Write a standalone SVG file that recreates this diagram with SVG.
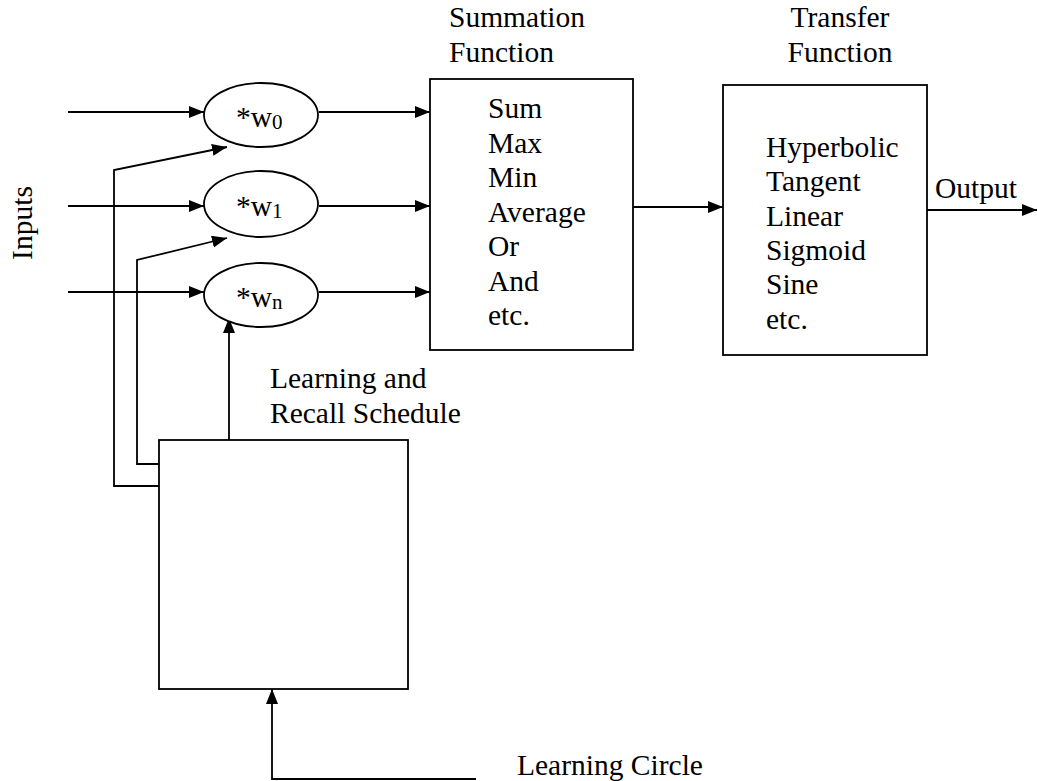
<svg xmlns="http://www.w3.org/2000/svg" width="1038" height="781" viewBox="0 0 1038 781">
  <style>
    .shape { fill: #ffffff; stroke: #000000; stroke-width: 1.8; }
    .wire { fill: none; stroke: #000000; stroke-width: 1.8; }
    .arrow { marker-end: url(#head); }
    text { font-family: "Liberation Serif", "Times New Roman", serif; font-size: 29.5px; fill: #000000; }
    .sub { font-size: 21px; }
  </style>
  <defs>
    <marker id="head" markerUnits="userSpaceOnUse" markerWidth="16" markerHeight="14" refX="15" refY="6" orient="auto">
      <path d="M0,0 L15,6 L0,12 Z" fill="#000000"/>
    </marker>
  </defs>
  <rect x="0" y="0" width="1038" height="781" fill="#ffffff"/>

  <!-- connectors -->
  <g id="connectors">
    <!-- inputs into the weight nodes -->
    <line class="wire arrow" x1="68" y1="112" x2="204" y2="112"/>
    <line class="wire arrow" x1="68" y1="206" x2="204" y2="206"/>
    <line class="wire arrow" x1="68" y1="292" x2="204" y2="292"/>
    <!-- weighted values into the summation function -->
    <line class="wire arrow" x1="319" y1="112" x2="430" y2="112"/>
    <line class="wire arrow" x1="319" y1="206" x2="430" y2="206"/>
    <line class="wire arrow" x1="319" y1="292" x2="430" y2="292"/>
    <!-- summation to transfer -->
    <line class="wire arrow" x1="633" y1="207" x2="723" y2="207"/>
    <!-- output -->
    <line class="wire arrow" x1="927" y1="210" x2="1037" y2="210"/>
    <!-- learning schedule feedback to the weights -->
    <polyline class="wire arrow" points="159,486 114,486 114,170 227,147"/>
    <polyline class="wire arrow" points="159,464 137,464 137,260 227,238"/>
    <line class="wire arrow" x1="229" y1="440" x2="229" y2="318"/>
    <!-- learning cycle input -->
    <polyline class="wire arrow" points="476,779 272,779 272,689"/>
  </g>

  <!-- weight nodes -->
  <g id="node-w0">
    <ellipse class="shape" cx="261" cy="115" rx="57" ry="32"/>
    <text x="236" y="127">*w<tspan class="sub" dy="2">0</tspan></text>
  </g>
  <g id="node-w1">
    <ellipse class="shape" cx="261" cy="204" rx="57" ry="33"/>
    <text x="236" y="216">*w<tspan class="sub" dy="2">1</tspan></text>
  </g>
  <g id="node-wn">
    <ellipse class="shape" cx="261" cy="295" rx="57" ry="32"/>
    <text x="236" y="307">*w<tspan class="sub" dy="2">n</tspan></text>
  </g>

  <!-- summation function -->
  <g id="node-summation">
    <text x="449" y="27">Summation</text>
    <text x="449" y="62">Function</text>
    <rect class="shape" x="430" y="79" width="203" height="271"/>
    <text x="488" y="118">Sum</text>
    <text x="488" y="152.5">Max</text>
    <text x="488" y="187">Min</text>
    <text x="488" y="221.5">Average</text>
    <text x="488" y="256">Or</text>
    <text x="488" y="290.5">And</text>
    <text x="488" y="325">etc.</text>
  </g>

  <!-- transfer function -->
  <g id="node-transfer">
    <text x="840" y="27" text-anchor="middle">Transfer</text>
    <text x="840" y="62" text-anchor="middle">Function</text>
    <rect class="shape" x="723" y="85" width="204" height="270"/>
    <text x="766" y="157">Hyperbolic</text>
    <text x="766" y="191.3">Tangent</text>
    <text x="766" y="225.6">Linear</text>
    <text x="766" y="259.9">Sigmoid</text>
    <text x="766" y="294.2">Sine</text>
    <text x="766" y="328.5">etc.</text>
  </g>

  <!-- learning and recall schedule -->
  <g id="node-schedule">
    <text x="270" y="388">Learning and</text>
    <text x="270" y="423">Recall Schedule</text>
    <rect class="shape" x="159" y="440" width="249" height="249"/>
  </g>

  <!-- free labels -->
  <g id="label-inputs">
    <text transform="translate(32,223) rotate(-90)" text-anchor="middle">Inputs</text>
  </g>
  <g id="label-output">
    <text x="935" y="198">Output</text>
  </g>
  <g id="label-learning-circle">
    <text x="517" y="775">Learning Circle</text>
  </g>
</svg>
